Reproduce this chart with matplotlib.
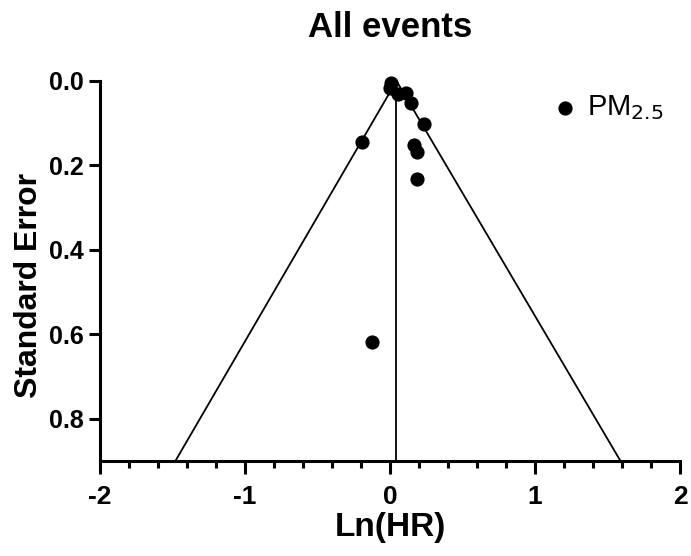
import matplotlib
matplotlib.use("Agg")
import matplotlib.pyplot as plt
from matplotlib.ticker import MultipleLocator

plt.rcParams['font.family'] = ['Liberation Sans', 'DejaVu Sans']
plt.rcParams['axes.unicode_minus'] = False

# study estimates: log hazard ratio and its standard error
ln_hr = [0.007, 0.0, 0.055, 0.11, 0.145, 0.235, -0.19, 0.165, 0.185, 0.185, -0.125]
std_err = [0.005, 0.017, 0.031, 0.028, 0.052, 0.102, 0.144, 0.151, 0.168, 0.232, 0.618]

# pooled estimate and funnel edges at the bottom of the axis
pooled = 0.045
funnel_x = [-1.48, pooled, 1.59]
funnel_y = [0.9, 0.0, 0.9]

fig = plt.figure(figsize=(6.91, 5.56), dpi=100)
ax = fig.add_axes([0.1447, 0.1709, 0.8393, 0.6835])

ax.plot(funnel_x, funnel_y, color='black', lw=1.3, clip_on=False)
ax.plot([pooled, pooled], [0.0, 0.9], color='black', lw=1.3, clip_on=False)
ax.scatter(ln_hr, std_err, s=85, color='black', zorder=3, clip_on=False,
           label='PM$_{2.5}$')

ax.set_xlim(-2, 2)
ax.set_ylim(0.9, 0.0)
ax.xaxis.set_major_locator(MultipleLocator(1))
ax.xaxis.set_minor_locator(MultipleLocator(0.2))
ax.set_yticks([0.0, 0.2, 0.4, 0.6, 0.8])
ax.set_yticklabels(['0.0', '0.2', '0.4', '0.6', '0.8'])

for side in ['top', 'right']:
    ax.spines[side].set_visible(False)
for side in ['left', 'bottom']:
    ax.spines[side].set_linewidth(2.2)

ax.tick_params(axis='y', which='major', width=2.2, length=8, labelsize=18, pad=4)
ax.tick_params(axis='x', which='major', width=2.2, length=9, labelsize=19, pad=8)
ax.tick_params(axis='x', which='minor', width=2.2, length=5)
for lab in ax.get_xticklabels() + ax.get_yticklabels():
    lab.set_fontweight('bold')

ax.set_xlabel('Ln(HR)', fontsize=24, fontweight='bold', va='center')
ax.xaxis.set_label_coords(0.5, -0.176)
ax.set_ylabel('Standard Error', fontsize=23, fontweight='bold', va='center')
ax.yaxis.set_label_coords(-0.122, 0.463)
fig.text(0.5647, 0.951, 'All events', fontsize=25, fontweight='bold',
         ha='center', va='center')

leg = ax.legend(loc='center left', bbox_to_anchor=(0.7965, 0.806),
                bbox_transform=fig.transFigure, frameon=False, fontsize=21,
                handlelength=1.0, handletextpad=0.26, borderpad=0,
                borderaxespad=0)

fig.savefig('out.png', dpi=100)
